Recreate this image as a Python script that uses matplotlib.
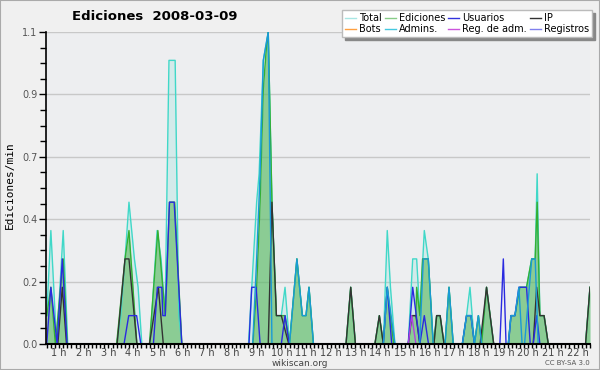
import matplotlib
matplotlib.use("Agg")
import matplotlib.pyplot as plt
from matplotlib.lines import Line2D
from matplotlib.patches import Rectangle

# edits per minute, 10 minute buckets; hours of day on x
total_t = [0.5, 0.667, 0.9, 1.167, 1.35,
           3.33, 3.5, 3.67, 3.83, 4.05, 4.2, 4.35,
           4.68, 4.97, 5.13, 5.29, 5.45, 5.70, 5.85, 5.97,
           8.67, 9.0, 9.1, 9.27, 9.47, 9.62, 9.8, 10.0, 10.15, 10.33, 10.63, 10.85, 11.0, 11.12, 11.3,
           12.62, 12.81, 13.0, 13.79, 13.97, 14.13, 14.29, 14.42, 14.6,
           15.14, 15.32, 15.48, 15.61, 15.79, 15.95, 16.15, 16.29, 16.43, 16.59,
           16.63, 16.79, 16.96, 17.33, 17.5, 17.64, 17.82, 17.98, 18.11,
           18.31, 18.6, 19.19, 19.3, 19.46, 19.66, 19.93, 20.14, 20.28, 20.36, 20.47, 20.64, 20.81,
           22.32, 22.5]
total_v = [0.1, 0.4, 0.0, 0.4, 0.0,
           0.0, 0.1, 0.3, 0.5, 0.3, 0.2, 0.0,
           0.0, 0.4, 0.3, 0.1, 1.0, 1.0, 0.1, 0.0,
           0.0, 0.5, 0.6, 1.0, 1.1, 0.5, 0.1, 0.1, 0.2, 0.0, 0.3, 0.1, 0.1, 0.2, 0.0,
           0.0, 0.2, 0.0, 0.0, 0.1, 0.0, 0.4, 0.2, 0.0,
           0.0, 0.3, 0.3, 0.1, 0.4, 0.3, 0.0, 0.1, 0.1, 0.0,
           0.0, 0.2, 0.0, 0.0, 0.1, 0.2, 0.0, 0.1, 0.0,
           0.2, 0.0, 0.0, 0.1, 0.1, 0.2, 0.2, 0.3, 0.3, 0.6, 0.1, 0.1, 0.0,
           0.0, 0.2]

edits_t = [0.5, 0.667, 0.85, 1.167, 1.33,
           3.33, 3.67, 3.83, 4.15,
           4.66, 5.0, 5.2, 5.3, 5.47, 5.68, 5.97,
           8.85, 9.0, 9.14, 9.27, 9.4, 9.47, 9.62, 9.8, 10.0, 10.15, 10.33, 10.63, 10.85, 11.0, 11.12, 11.3,
           12.62, 12.81, 13.0, 13.79, 13.97, 14.13, 14.29, 14.55,
           15.14, 15.3, 15.45, 15.48, 15.61, 15.72, 15.95, 16.15, 16.18, 16.29, 16.43, 16.59,
           16.63, 16.79, 16.96, 17.33, 17.5, 17.68, 17.82, 17.98, 18.11,
           18.31, 18.6, 19.19, 19.3, 19.46, 19.66, 19.93, 20.14, 20.28, 20.36, 20.47, 20.64, 20.81,
           22.32, 22.5]
edits_v = [0.1, 0.2, 0.0, 0.3, 0.0,
           0.0, 0.3, 0.4, 0.0,
           0.0, 0.4, 0.2, 0.1, 0.5, 0.5, 0.0,
           0.0, 0.2, 0.5, 0.9, 1.05, 1.1, 0.5, 0.1, 0.1, 0.1, 0.0, 0.3, 0.1, 0.1, 0.2, 0.0,
           0.0, 0.2, 0.0, 0.0, 0.1, 0.0, 0.2, 0.0,
           0.0, 0.1, 0.1, 0.2, 0.1, 0.3, 0.3, 0.0, 0.0, 0.1, 0.1, 0.0,
           0.0, 0.2, 0.0, 0.0, 0.1, 0.1, 0.0, 0.1, 0.0,
           0.2, 0.0, 0.0, 0.1, 0.1, 0.2, 0.2, 0.3, 0.3, 0.5, 0.1, 0.1, 0.0,
           0.0, 0.2]

users_t = [0.5, 0.667, 0.92, 1.13, 1.32,
           3.63, 3.82, 4.14, 4.31,
           4.82, 4.98, 5.16, 5.2, 5.3, 5.47, 5.66, 5.97,
           8.69, 8.8, 8.98, 9.14, 10.0, 10.15, 10.32,
           14.13, 14.29, 14.47,
           15.14, 15.32, 15.61, 15.79, 15.96,
           17.33, 17.5, 17.68, 17.82,
           18.85, 18.99, 19.1, 19.2, 19.3, 19.46, 19.62, 19.93, 20.08, 20.2, 20.34, 20.47]
users_v = [0.0, 0.2, 0.0, 0.3, 0.0,
           0.0, 0.1, 0.1, 0.0,
           0.0, 0.2, 0.2, 0.1, 0.1, 0.5, 0.5, 0.0,
           0.0, 0.2, 0.2, 0.0, 0.0, 0.1, 0.0,
           0.0, 0.2, 0.0,
           0.0, 0.2, 0.0, 0.1, 0.0,
           0.0, 0.1, 0.1, 0.0,
           0.0, 0.3, 0.0, 0.0, 0.1, 0.1, 0.2, 0.2, 0.0, 0.0, 0.1, 0.0]

ip_t = [0.95, 1.13, 1.3,
        3.35, 3.67, 3.83, 4.15,
        4.66, 5.02, 5.22,
        9.47, 9.62, 9.8, 10.0, 10.3,
        12.62, 12.81, 13.0, 13.79, 13.97, 14.13,
        15.14, 15.28, 15.45, 15.61, 16.18, 16.29, 16.43, 16.59,
        18.05, 18.31, 18.6, 20.2, 20.34, 20.47, 20.64, 20.81,
        22.32, 22.5]
ip_v = [0.0, 0.2, 0.0,
        0.0, 0.3, 0.3, 0.0,
        0.0, 0.2, 0.0,
        0.0, 0.5, 0.1, 0.1, 0.0,
        0.0, 0.2, 0.0, 0.0, 0.1, 0.0,
        0.0, 0.1, 0.1, 0.0, 0.0, 0.1, 0.1, 0.0,
        0.0, 0.2, 0.0, 0.0, 0.2, 0.1, 0.1, 0.0,
        0.0, 0.2]

admins_t = [8.84, 9.0, 9.14, 9.27, 9.47, 9.62,
            10.33, 10.63, 10.85, 11.0, 11.12, 11.3,
            14.13, 14.29, 14.6,
            15.6, 15.75, 15.95, 16.15,
            16.63, 16.79, 16.96, 17.33, 17.5, 17.68, 17.82, 17.98, 18.11,
            19.19, 19.3, 19.46, 19.62, 19.75, 19.85, 20.14, 20.28, 20.4]
admins_v = [0.0, 0.3, 0.6, 1.0, 1.1, 0.0,
            0.0, 0.3, 0.1, 0.1, 0.2, 0.0,
            0.0, 0.2, 0.0,
            0.0, 0.3, 0.3, 0.0,
            0.0, 0.2, 0.0, 0.0, 0.1, 0.1, 0.0, 0.1, 0.0,
            0.0, 0.1, 0.1, 0.2, 0.0, 0.0, 0.3, 0.3, 0.0]

regadm_t = [15.14, 15.28, 15.45]
regadm_v = [0.0, 0.1, 0.0]

hours = list(range(1, 23))
y_ticks = [0.0, 0.22, 0.44, 0.66, 0.88, 1.1]
y_labels = ["0.0", "0.2", "0.4", "0.7", "0.9", "1.1"]

legend_names = ["Total", "Bots", "Ediciones", "Admins.", "Usuarios", "Reg. de adm.", "IP", "Registros"]
legend_colors = ["#a8e6e4", "#ffa040", "#88cc88", "#44c8e0", "#3333dd", "#cc55dd", "#333333", "#8080ee"]

fig = plt.figure(figsize=(6, 3.7), dpi=100, facecolor="#f0f0f0")
ax = fig.add_axes([46 / 600, 1 - 344 / 370, 544 / 600, 312 / 370])
ax.set_facecolor("#edeef0")

ax.fill_between(total_t, total_v, color="#40d8c8", alpha=0.15, lw=0)
ax.fill_between(edits_t, edits_v, color="#5cb85c", alpha=0.6, lw=0)
ax.plot(total_t, total_v, color="#40d8c8", lw=1.0)
ax.plot(edits_t, edits_v, color="#33b033", lw=1.0)
ax.plot(ip_t, ip_v, color="#333333", lw=1.0)
ax.plot(users_t, users_v, color="#2a2ae0", lw=1.0)
ax.plot(admins_t, admins_v, color="#1a9ad6", lw=1.0)
ax.plot(regadm_t, regadm_v, color="#b040e0", lw=1.0)

ax.set_xlim(0.47, 22.5)
ax.set_ylim(0, 1.1)
ax.set_xticks(hours)
ax.set_xticklabels(["%d h" % h for h in hours])
ax.set_xticks([i / 6 for i in range(3, 136)], minor=True)
ax.set_yticks(y_ticks)
ax.set_yticklabels(y_labels)
ax.set_yticks([i * 0.055 for i in range(21)], minor=True)
ax.tick_params(axis="x", which="both", length=3, width=1, direction="out", pad=0,
               labelsize=7, labelcolor="#444444")
ax.tick_params(axis="y", which="major", length=5, width=1, pad=1, labelsize=7, labelcolor="#555555")
ax.tick_params(axis="y", which="minor", length=4, width=1)
ax.grid(axis="y", which="major", color="#c8c8c8", lw=1)
ax.set_axisbelow(True)
for s in ["top", "right"]:
    ax.spines[s].set_visible(False)
ax.spines["left"].set_linewidth(1.2)
ax.spines["bottom"].set_linewidth(1.5)

fig.text(155 / 600, 1 - 17 / 370, "Ediciones  2008-03-09", ha="center", va="center",
         fontsize=9.5, fontweight="bold")
fig.text(10 / 600, 1 - 185 / 370, "Ediciones/min", rotation=90, ha="center", va="center",
         fontsize=8, family="DejaVu Sans Mono")
fig.text(300 / 600, 1 - 363 / 370, "wikiscan.org", ha="center", va="center", fontsize=6.5, color="#444444")
fig.text(590 / 600, 1 - 363 / 370, "CC BY-SA 3.0", ha="right", va="center", fontsize=5, color="#555555")

handles = [Line2D([], [], color=c, lw=1) for c in legend_colors]
fig.legend(handles, legend_names, ncol=4, loc="upper right",
           bbox_to_anchor=(592 / 600, 1 - 10 / 370), fontsize=7, frameon=True,
           fancybox=False, edgecolor="#bbbbbb", facecolor="white", framealpha=1,
           shadow={"color": "#888888", "alpha": 1}, handlelength=1.1, handletextpad=0.35,
           columnspacing=0.3, labelspacing=0.15, borderpad=0.3, borderaxespad=0)

fig.patches.append(Rectangle((0, 0), 1, 1, transform=fig.transFigure, fill=False,
                             edgecolor="#aaaaaa", lw=1.5))

fig.savefig("out.png", dpi=100, facecolor=fig.get_facecolor())
